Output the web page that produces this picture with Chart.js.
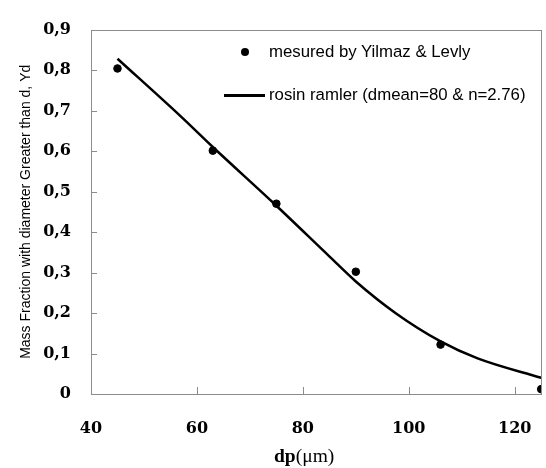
<!DOCTYPE html>
<html>
<head>
<meta charset="utf-8">
<script src="https://cdn.jsdelivr.net/npm/chart.js@4"></script>
<style>
  body { margin: 0; background: #fff; }
  #wrap { position: relative; width: 546px; height: 468px; }
  .lg { position: absolute; font-family: "Liberation Sans", Arial, sans-serif; font-size: 16.8px; color: #000; white-space: nowrap; line-height: 18px; }
  #xt { position: absolute; font-family: "Liberation Serif", serif; font-size: 19.5px; white-space: nowrap; line-height: 20px; }
</style>
</head>
<body>
<div id="wrap">
  <canvas id="grafica" width="546" height="468"></canvas>
  <div style="position:absolute;left:241px;top:48px;width:8px;height:8px;border-radius:50%;background:#000"></div>
  <div class="lg" style="left:269px;top:43px">mesured by Yilmaz &amp; Levly</div>
  <div style="position:absolute;left:224px;top:94px;width:41px;height:2.5px;background:#000"></div>
  <div class="lg" style="left:269px;top:86px">rosin ramler (dmean=80 &amp; n=2.76)</div>
  <div id="xt" style="left:274px;top:446px"><b>dp</b>(μm)</div>
</div>
<script>
// medidos (Yilmaz & Levly)
const medX = [45, 63, 75, 90, 106, 125];
const medY = [0.804, 0.601, 0.470, 0.302, 0.122, 0.012];

// curva rosin rammler
const curvaX = [45, 57, 63, 75, 85, 90, 97.6, 106, 113, 125];
const curvaY = [0.828, 0.685, 0.610, 0.465, 0.340, 0.278, 0.199, 0.130, 0.088, 0.040];

const xTicks = [40, 60, 80, 100, 120];

// marco y marcas de eje hacia dentro
const marcoPlugin = {
  id: "marco",
  afterDraw(chart) {
    const ctx = chart.ctx;
    const a = chart.chartArea;
    const xs = chart.scales.x, ys = chart.scales.y;
    ctx.save();
    ctx.strokeStyle = "#8c8c8c";
    ctx.lineWidth = 1;
    ctx.strokeRect(Math.round(a.left) + 0.5, Math.round(a.top) + 0.5,
      Math.round(a.right - a.left), Math.round(a.bottom - a.top));
    ctx.beginPath();
    ys.ticks.forEach(t => {
      const y = Math.round(ys.getPixelForValue(t.value)) + 0.5;
      ctx.moveTo(a.left, y);
      ctx.lineTo(a.left + 6, y);
    });
    xs.ticks.forEach(t => {
      const x = Math.round(xs.getPixelForValue(t.value)) + 0.5;
      ctx.moveTo(x, a.bottom);
      ctx.lineTo(x, a.bottom - 7);
    });
    ctx.stroke();
    ctx.restore();
  }
};

new Chart(document.getElementById("grafica"), {
  type: "scatter",
  data: {
    datasets: [
      {
        label: "mesured by Yilmaz & Levly",
        data: medX.map((x, i) => ({ x: x, y: medY[i] })),
        backgroundColor: "#000",
        borderColor: "#000",
        pointRadius: 3.8,
        pointHoverRadius: 3.8,
        order: 2
      },
      {
        label: "rosin ramler (dmean=80 & n=2.76)",
        data: curvaX.map((x, i) => ({ x: x, y: curvaY[i] })),
        showLine: true,
        borderColor: "#000",
        borderWidth: 2.5,
        pointRadius: 0,
        cubicInterpolationMode: "monotone",
        order: 1
      }
    ]
  },
  options: {
    responsive: false,
    animation: false,
    events: [],
    layout: { padding: { top: 14, right: 4, left: 0, bottom: 0 } },
    plugins: {
      legend: { display: false },
      tooltip: { enabled: false }
    },
    scales: {
      x: {
        type: "linear",
        min: 40,
        max: 125,
        afterBuildTicks: s => { s.ticks = xTicks.map(v => ({ value: v })); },
        afterFit: s => { s.height = 74; s.paddingRight = 0; s.paddingLeft = 0; },
        grid: { display: false, drawTicks: false },
        border: { display: false },
        ticks: {
          padding: 25,
          color: "#000",
          font: { family: "DejaVu Serif", weight: "bold", size: 16 }
        }
      },
      y: {
        min: 0,
        max: 0.9,
        afterFit: s => { s.width = 91; },
        grid: { display: false, drawTicks: false },
        border: { display: false },
        ticks: {
          stepSize: 0.1,
          padding: 20,
          color: "#000",
          font: { family: "DejaVu Serif", weight: "bold", size: 16 },
          callback: v => v === 0 ? "0" : v.toFixed(1).replace(".", ",")
        },
        title: {
          display: true,
          text: "Mass Fraction with diameter Greater than d, Yd",
          color: "#000",
          padding: { top: 18 },
          font: { family: "Liberation Sans", size: 14 }
        }
      }
    }
  },
  plugins: [marcoPlugin]
});
</script>
</body>
</html>
